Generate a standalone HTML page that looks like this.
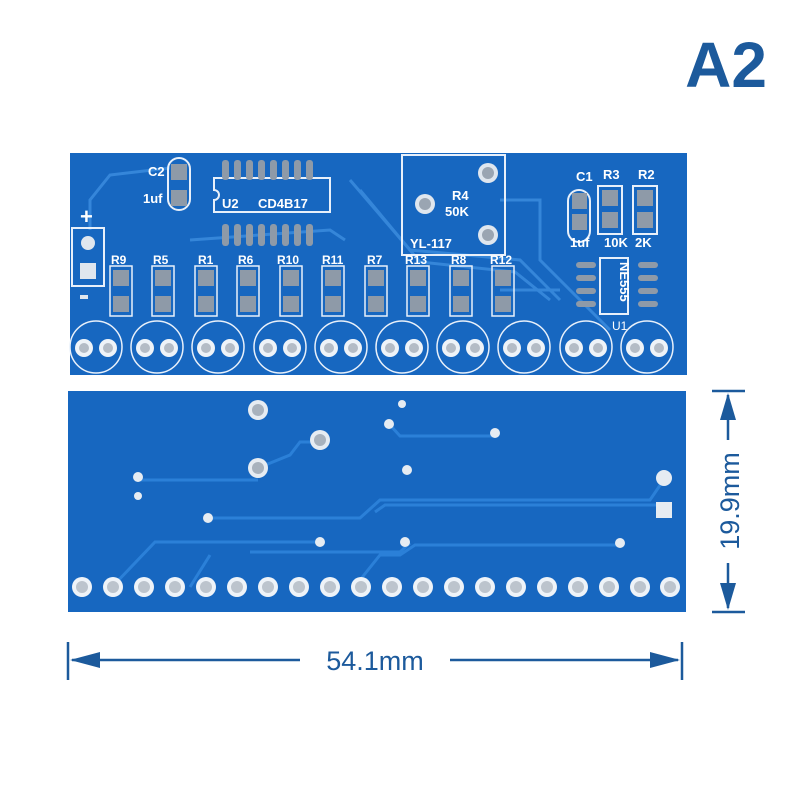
<!DOCTYPE html>
<html><head><meta charset="utf-8"><style>
html,body{margin:0;padding:0;background:#fff;width:800px;height:800px;overflow:hidden}
svg{display:block}
text{font-family:"Liberation Sans",sans-serif}
</style></head><body>
<svg width="800" height="800" viewBox="0 0 800 800" xmlns="http://www.w3.org/2000/svg">
<rect width="800" height="800" fill="#fff"/>
<text x="726" y="87" font-size="64" font-weight="bold" fill="#1c5a9c" text-anchor="middle">A2</text>

<!-- TOP BOARD -->
<rect x="70" y="153" width="617" height="222" fill="#1767c0"/>
<g fill="none" stroke="#3d8ee0" stroke-width="3" opacity="0.8">
<path d="M90 230 L90 200 L110 175 L170 168"/>
<path d="M350 180 L410 250 L520 260 L560 300"/>
<path d="M360 190 L420 262 L515 272 L550 300"/>
<path d="M500 200 L540 200 L540 260 L610 330"/>
<path d="M190 240 L330 230 L345 240"/>
<path d="M500 290 L560 290"/>
</g>
<g fill="none" stroke="#e8f0fa" stroke-width="2">
<rect x="168" y="158" width="22" height="52" rx="11"/>
<path d="M214 178 L330 178 L330 212 L214 212 L214 200 A5 5 0 0 0 214 190 Z"/>
<rect x="402" y="155" width="103" height="100"/>
<rect x="72" y="228" width="32" height="58"/>
<rect x="568" y="190" width="22" height="52" rx="11"/>
<rect x="598" y="186" width="24" height="48"/>
<rect x="633" y="186" width="24" height="48"/>
<rect x="600" y="258" width="28" height="56"/>
</g>
<rect x="171" y="164" width="16" height="16" fill="#8e9aa8"/>
<rect x="171" y="190" width="16" height="16" fill="#8e9aa8"/>
<text x="148" y="176" font-size="13" font-weight="bold" fill="#fff">C2</text>
<text x="143" y="203" font-size="13" font-weight="bold" fill="#fff">1uf</text>
<g fill="#8e9aa8">
<rect x="222" y="160" width="7" height="20" rx="3"/><rect x="234" y="160" width="7" height="20" rx="3"/><rect x="246" y="160" width="7" height="20" rx="3"/><rect x="258" y="160" width="7" height="20" rx="3"/><rect x="270" y="160" width="7" height="20" rx="3"/><rect x="282" y="160" width="7" height="20" rx="3"/><rect x="294" y="160" width="7" height="20" rx="3"/><rect x="306" y="160" width="7" height="20" rx="3"/>
<rect x="222" y="224" width="7" height="22" rx="3"/><rect x="234" y="224" width="7" height="22" rx="3"/><rect x="246" y="224" width="7" height="22" rx="3"/><rect x="258" y="224" width="7" height="22" rx="3"/><rect x="270" y="224" width="7" height="22" rx="3"/><rect x="282" y="224" width="7" height="22" rx="3"/><rect x="294" y="224" width="7" height="22" rx="3"/><rect x="306" y="224" width="7" height="22" rx="3"/>
</g>
<text x="222" y="208" font-size="13" font-weight="bold" fill="#fff">U2</text>
<text x="258" y="208" font-size="13" font-weight="bold" fill="#fff">CD4B17</text>
<circle cx="488" cy="173" r="10" fill="#dfe6ee"/><circle cx="488" cy="173" r="6" fill="#9aa5b2"/>
<circle cx="425" cy="204" r="10" fill="#dfe6ee"/><circle cx="425" cy="204" r="6" fill="#9aa5b2"/>
<circle cx="488" cy="235" r="10" fill="#dfe6ee"/><circle cx="488" cy="235" r="6" fill="#9aa5b2"/>
<text x="452" y="200" font-size="13" font-weight="bold" fill="#fff">R4</text>
<text x="445" y="216" font-size="13" font-weight="bold" fill="#fff">50K</text>
<text x="410" y="248" font-size="13" fill="#fff" font-weight="bold">YL-117</text>
<text x="80" y="224" font-size="22" fill="#fff" font-weight="bold">+</text>
<circle cx="88" cy="243" r="7" fill="#dfe6ee"/>
<rect x="80" y="263" width="16" height="16" fill="#dfe6ee"/>
<rect x="80" y="295" width="8" height="4" fill="#dfe6ee"/>
<text x="576" y="181" font-size="13" font-weight="bold" fill="#fff">C1</text>
<text x="603" y="179" font-size="13" font-weight="bold" fill="#fff">R3</text>
<text x="638" y="179" font-size="13" font-weight="bold" fill="#fff">R2</text>
<g fill="#8e9aa8">
<rect x="572" y="193" width="15" height="16"/><rect x="572" y="214" width="15" height="16"/>
<rect x="602" y="190" width="16" height="16"/><rect x="602" y="212" width="16" height="16"/>
<rect x="637" y="190" width="16" height="16"/><rect x="637" y="212" width="16" height="16"/>
</g>
<text x="570" y="247" font-size="13" font-weight="bold" fill="#fff">1uf</text>
<text x="604" y="247" font-size="13" font-weight="bold" fill="#fff">10K</text>
<text x="635" y="247" font-size="13" font-weight="bold" fill="#fff">2K</text>
<g fill="#8e9aa8">
<rect x="576" y="262" width="20" height="6" rx="3"/><rect x="576" y="275" width="20" height="6" rx="3"/><rect x="576" y="288" width="20" height="6" rx="3"/><rect x="576" y="301" width="20" height="6" rx="3"/>
<rect x="638" y="262" width="20" height="6" rx="3"/><rect x="638" y="275" width="20" height="6" rx="3"/><rect x="638" y="288" width="20" height="6" rx="3"/><rect x="638" y="301" width="20" height="6" rx="3"/>
</g>
<text transform="translate(620,262) rotate(90)" font-size="13" font-weight="bold" fill="#fff">NE555</text>
<text x="612" y="330" font-size="12" fill="#fff">U1</text>
<g font-size="12" font-weight="bold" fill="#fff">
<text x="111" y="264">R9</text><text x="153" y="264">R5</text><text x="198" y="264">R1</text><text x="238" y="264">R6</text><text x="277" y="264">R10</text><text x="322" y="264">R11</text><text x="367" y="264">R7</text><text x="405" y="264">R13</text><text x="451" y="264">R8</text><text x="490" y="264">R12</text>
</g>
<g id="res">
<rect x="110" y="266" width="22" height="50" fill="none" stroke="#e8f0fa" stroke-width="1.5"/>
<rect x="113" y="270" width="16" height="16" fill="#8e9aa8"/>
<rect x="113" y="296" width="16" height="16" fill="#8e9aa8"/>
</g>
<use href="#res" x="42"/><use href="#res" x="85"/><use href="#res" x="127"/><use href="#res" x="170"/><use href="#res" x="212"/><use href="#res" x="255"/><use href="#res" x="297"/><use href="#res" x="340"/><use href="#res" x="382"/>
<g id="led">
<circle cx="96" cy="347" r="26" fill="none" stroke="#e8f0fa" stroke-width="1.5"/>
<circle cx="84" cy="348" r="9" fill="#eef3f8"/><circle cx="84" cy="348" r="5" fill="#b4bcc6"/>
<circle cx="108" cy="348" r="9" fill="#eef3f8"/><circle cx="108" cy="348" r="5" fill="#b4bcc6"/>
</g>
<use href="#led" x="61"/><use href="#led" x="122"/><use href="#led" x="184"/><use href="#led" x="245"/><use href="#led" x="306"/><use href="#led" x="367"/><use href="#led" x="428"/><use href="#led" x="490"/><use href="#led" x="551"/>

<!-- BOTTOM BOARD -->
<rect x="68" y="391" width="618" height="221" fill="#1767c0"/>
<g fill="none" stroke="#2b80d8" stroke-width="3">
<path d="M320 442 L300 442 L290 455 L258 468"/>
<path d="M390 425 L400 436 L495 436"/>
<path d="M135 480 L258 480"/>
<path d="M208 518 L360 518 L380 500 L650 500 L665 478"/>
<path d="M375 512 L385 505 L665 505"/>
<path d="M112 587 L155 542 L320 542"/>
<path d="M250 552 L400 552 L410 543"/>
<path d="M190 587 L210 555"/>
<path d="M360 580 L380 555 L400 555 L415 545 L620 545"/>
</g>
<g fill="#e6ecf2"><circle cx="258" cy="410" r="10"/><circle cx="320" cy="440" r="10"/><circle cx="258" cy="468" r="10"/>
<circle cx="402" cy="404" r="4"/><circle cx="389" cy="424" r="5"/><circle cx="495" cy="433" r="5"/><circle cx="407" cy="470" r="5"/>
<circle cx="138" cy="477" r="5"/><circle cx="138" cy="496" r="4"/><circle cx="208" cy="518" r="5"/>
<circle cx="320" cy="542" r="5"/><circle cx="405" cy="542" r="5"/><circle cx="620" cy="543" r="5"/>
<circle cx="664" cy="478" r="8"/><rect x="656" y="502" width="16" height="16"/></g>
<g fill="#a8b2bd"><circle cx="258" cy="410" r="6"/><circle cx="320" cy="440" r="6"/><circle cx="258" cy="468" r="6"/></g>
<g id="ph"><circle cx="82" cy="587" r="10" fill="#eef3f8"/><circle cx="82" cy="587" r="6" fill="#bcc4cd"/></g>
<use href="#ph" x="31"/><use href="#ph" x="62"/><use href="#ph" x="93"/><use href="#ph" x="124"/><use href="#ph" x="155"/><use href="#ph" x="186"/><use href="#ph" x="217"/><use href="#ph" x="248"/><use href="#ph" x="279"/><use href="#ph" x="310"/><use href="#ph" x="341"/><use href="#ph" x="372"/><use href="#ph" x="403"/><use href="#ph" x="434"/><use href="#ph" x="465"/><use href="#ph" x="496"/><use href="#ph" x="527"/><use href="#ph" x="558"/><use href="#ph" x="588"/>

<g stroke="#1c5a9c" stroke-width="2.5" fill="#1c5a9c">
<line x1="68" y1="642" x2="68" y2="680"/><line x1="682" y1="642" x2="682" y2="680"/>
<line x1="72" y1="660" x2="300" y2="660"/><line x1="450" y1="660" x2="678" y2="660"/>
<polygon points="70,660 100,652 100,668" stroke="none"/><polygon points="680,660 650,652 650,668" stroke="none"/>
<line x1="712" y1="391" x2="745" y2="391"/><line x1="712" y1="612" x2="745" y2="612"/>
<line x1="728" y1="395" x2="728" y2="440"/><line x1="728" y1="563" x2="728" y2="608"/>
<polygon points="728,393 720,420 736,420" stroke="none"/><polygon points="728,610 720,583 736,583" stroke="none"/>
</g>
<text x="375" y="670" font-size="27" fill="#1c5a9c" text-anchor="middle">54.1mm</text>
<text transform="translate(739,501) rotate(-90)" font-size="27" fill="#1c5a9c" text-anchor="middle">19.9mm</text>
</svg>
</body></html>
